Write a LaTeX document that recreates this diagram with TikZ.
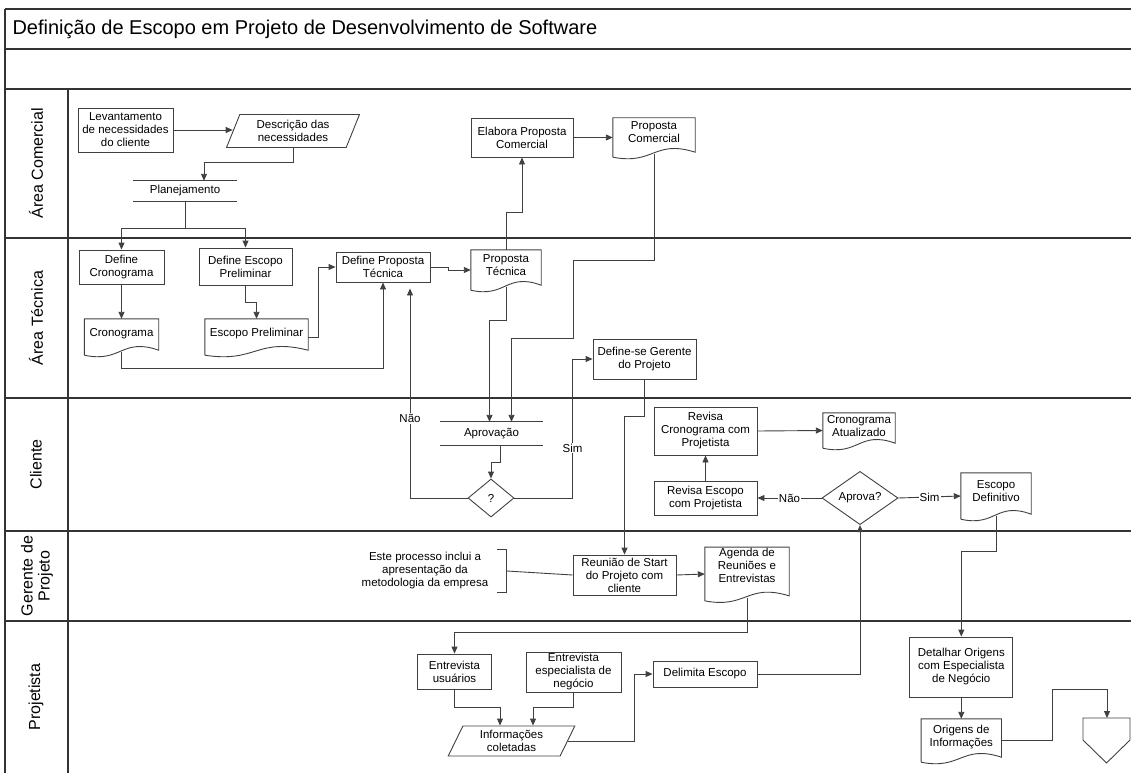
\documentclass[tikz,border=0pt]{standalone}
\usepackage{fontspec}
\setmainfont{Liberation Sans}
\usetikzlibrary{
	arrows.meta,
	shapes.geometric,
	calc
}

\newcommand\boxfont{\fontsize{11.5}{13}\selectfont}
\newcommand\docframe[1]{%
	\draw[shp] (#1.south west) -- (#1.north west) -- (#1.north east) -- ([yshift=5pt]#1.south east)
		.. controls ($(#1.south west)!0.5!(#1.south east)+(0,-18)$) and ($(#1.south west)!0.5!(#1.south east)+(0,8)$) .. (#1.south west);}
\newcommand\barframe[1]{%
	\draw[shp] (#1.north west) -- (#1.north east) (#1.south west) -- (#1.south east);}

\begin{document}
\begin{tikzpicture}[x=1pt, y=-1pt,
		lane/.style={line width=1.3pt, draw=black!80},
		shp/.style={line width=0.9pt, draw=black!75},
		sz/.style 2 args={minimum width=#1pt, minimum height=#2pt},
		box/.style={shp, rectangle, align=center, font=\boxfont, inner sep=1pt},
		docu/.style={align=center, font=\boxfont, inner sep=1pt, text depth=10pt},
		bar/.style={align=center, font=\boxfont, inner sep=1pt},
		para/.style={shp, trapezium, trapezium stretches=true, align=center, font=\boxfont, inner sep=0pt},
		dec/.style={shp, diamond, align=center, font=\boxfont, inner sep=0pt},
		conn/.style={line width=0.9pt, draw=black!75},
		arr/.style={conn, -{Triangle[length=7pt,width=6pt]}},
		lbl/.style={fill=white, font=\boxfont, inner sep=1pt},
		lanelbl/.style={rotate=90, align=center, font=\fontsize{16}{17}\selectfont}]
	\def\pagew{1131}
	\useasboundingbox (0,0) rectangle (\pagew,773);

	\draw[lane] (5,9) -- (\pagew,9);
	\foreach \y in {49,89,238,398,531,621}
		\draw[lane] (5,\y) -- (\pagew,\y);
	\draw[lane] (5,9) -- (5,773);
	\draw[lane] (68,89) -- (68,773);

	\node[anchor=west, font=\fontsize{20}{24}\selectfont] (title) at (9,29) {Definição de Escopo em Projeto de Desenvolvimento de Software};

	\node[lanelbl] (lcom) at (36,163.5) {Área Comercial};
	\node[lanelbl] (ltec) at (36,318) {Área Técnica};
	\node[lanelbl] (lcli) at (36,464.5) {Cliente};
	\node[lanelbl] (lger) at (37,576) {Gerente de\\Projeto};
	\node[lanelbl] (lpro) at (36,697) {Projetista};

	% area comercial
	\node[box, sz={95}{44}] (lev) at (125.5,130) {Levantamento\\de necessidades\\do cliente};
	\node[para, sz={134}{33}, trapezium left angle=67, trapezium right angle=113] (desc) at (293,131) {Descrição das\\necessidades};
	\node[bar, sz={103}{20}] (plan) at (185,191) {Planejamento};
	\node[box, sz={102}{39}] (elab) at (522,137.5) {Elabora Proposta\\Comercial};
	\node[docu, sz={82}{39}] (pcom) at (654,137.5) {Proposta\\Comercial};

	% area tecnica
	\node[box, sz={85}{34}] (dcron) at (121.5,267) {Define\\Cronograma};
	\node[box, sz={93}{37}] (desp) at (245.5,266.5) {Define Escopo\\Preliminar};
	\node[docu, sz={74}{36}] (cron) at (121.5,337) {Cronograma};
	\node[docu, sz={103}{36}] (escp) at (256.5,337) {Escopo Preliminar};
	\node[box, sz={94}{30}] (dprop) at (383,267) {Define Proposta\\Técnica};
	\node[docu, sz={70}{40}] (ptec) at (506,270) {Proposta\\Técnica};
	\node[box, sz={103}{40}] (dger) at (644.5,359) {Define-se Gerente\\do Projeto};

	% cliente
	\node[bar, sz={103}{23}] (aprov) at (491.5,433.5) {Aprovação};
	\node[dec, sz={46}{38}] (quest) at (491,498) {?};
	\node[box, sz={103}{48}] (rcron) at (705.5,431) {Revisa\\Cronograma com\\Projetista};
	\node[docu, sz={72}{35}] (catu) at (859,430.5) {Cronograma\\Atualizado};
	\node[box, sz={103}{34}] (resc) at (705.5,498) {Revisa Escopo\\com Projetista};
	\node[dec, sz={76}{50}] (aprova) at (860,498) {Aprova?};
	\node[docu, sz={70}{46}] (edef) at (996,496) {Escopo\\Definitivo};

	% gerente de projeto
	\node[font=\boxfont, align=center] (annot) at (425,571) {Este processo inclui a\\apresentação da\\metodologia da empresa};
	\node[box, sz={103}{40}] (reun) at (624.5,575) {Reunião de Start\\do Projeto com\\cliente};
	\node[docu, sz={84}{52}, text depth=17pt] (agen) at (747,574) {Agenda de\\Reuniões e\\Entrevistas};

	% projetista
	\node[box, sz={74}{35}] (entu) at (454.5,671.5) {Entrevista\\usuários};
	\node[box, sz={95}{40}] (ente) at (573.5,672) {Entrevista\\especialista de\\negócio};
	\node[para, sz={127}{30}, trapezium left angle=66, trapezium right angle=114] (info) at (511.5,741) {Informações\\coletadas};
	\node[box, sz={104}{26}] (delim) at (705,674) {Delimita Escopo};
	\node[box, sz={103}{60}] (detal) at (961.3,667) {Detalhar Origens\\com Especialista\\de Negócio};
	\node[docu, sz={80}{43}] (orig) at (961.3,740.5) {Origens de\\Informações};
	\coordinate (offp) at (1107,718);

	\foreach \d in {pcom,cron,escp,ptec,catu,edef,agen,orig}
		\docframe{\d};
	\foreach \b in {plan,aprov}
		\barframe{\b};
	\draw[shp] (offp) ++(-24,0) -- ++(47,0) -- ++(0,22) -- ++(-23.5,23) -- ++(-23.5,-23) -- cycle;

	\draw[arr] (lev.east) -- (lev.east -| desc.west);
	\draw[arr] (desc.south) -- ++(0,14) -| ([xshift=19pt]plan.north);
	\draw[conn] (plan.south) -- ++(0,27) coordinate (fork);
	\draw[arr] (fork) -| (dcron.north);
	\draw[arr] (fork) -| (desp.north);
	\draw[arr] (dcron.south) -- (cron.north);
	\draw[arr] (desp.south) -- ++(0,17) -| (escp.north);
	\draw[arr] (escp.east) -- ++(10,0) |- (dprop.west);
	\draw[arr] ([yshift=3pt]cron.south) -- ++(0,16) -| (dprop.south);
	\draw[arr] (dprop.east) -- ++(18,0) |- (ptec.west);
	\draw[arr] (ptec.north) -- ++(0,-37) -| (elab.south);
	\draw[arr] (elab.east) -- (pcom.west);
	\draw[arr] ([yshift=3pt]pcom.south) -- ++(0,106) -| ++(-81,78) -| ([xshift=20pt]aprov.north);
	\draw[arr] ([yshift=3pt]ptec.south) -- ++(0,33) -| ([xshift=-2pt]aprov.north);
	\draw[arr] ([xshift=8.5pt]aprov.south) -- ++(0,17) -| (quest.north);
	\draw[arr] (quest.west) -| ([xshift=27pt,yshift=-6pt]dprop.south) node[lbl, pos=0.69] {Não};
	\draw[arr] (quest.east) -| ([xshift=-20pt]dger.west) node[lbl, pos=0.68] {Sim} -- (dger.west);
	\draw[arr] (dger.south) -- ++(0,37) -| (reun.north);
	\draw[arr] (resc.north) -- (rcron.south);
	\draw[arr] (rcron.east) -- (catu.west);
	\draw[arr] (aprova.west) -- node[lbl] {Não} (resc.east);
	\draw[arr] (aprova.east) -- node[lbl] {Sim} (edef.west);
	\draw[arr] ([yshift=3pt]edef.south) -- ++(0,35) -| (detal.north);
	\draw[conn] ([xshift=5pt]annot.north east) -- ++(10,0) |- ([xshift=5pt]annot.south east);
	\draw[conn] ([xshift=15pt]annot.east) -- (reun.west);
	\draw[arr] (reun.east) -- (agen.west);
	\draw[arr] ([yshift=3pt]agen.south) -- ++(0,35) -| (entu.north);
	\draw[arr] (entu.south) -- ++(0,18) -| ([xshift=-11.5pt]info.north);
	\draw[arr] (ente.south) -- ++(0,15) -| ([xshift=21.5pt]info.north);
	\draw[arr] (info.east) -- ++(66,0) |- (delim.west);
	\draw[arr] (delim.east) -| (aprova.south);
	\draw[arr] (detal.south) -- (orig.north);
	\draw[arr] (orig.east) -- ++(51,0) |- ([yshift=29pt]offp) -- (offp);
\end{tikzpicture}
\end{document}
